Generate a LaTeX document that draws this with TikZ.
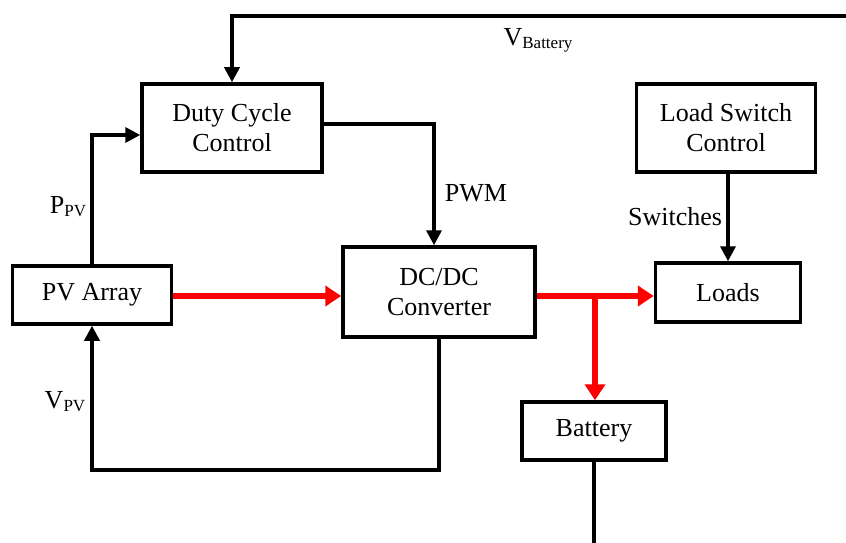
\documentclass[tikz,border=0pt]{standalone}
\usepackage{fontspec}
\setmainfont{Liberation Serif}
\usetikzlibrary{arrows.meta}
\newcommand{\mysub}[1]{\raisebox{-3pt}{\fontsize{17}{17}\selectfont #1}}
\begin{document}
\begin{tikzpicture}[x=1pt,y=-1pt,
  box/.style={draw=black,line width=3.5pt,align=center,inner sep=0pt,
    font=\fontsize{26}{30}\selectfont},
  lbl/.style={inner sep=0pt,font=\fontsize{26}{30}\selectfont},
  conn/.style={draw=black,line width=3.5pt,-{Triangle[width=15pt,length=15pt]}},
  plain/.style={draw=black,line width=3.5pt},
  power/.style={draw=red,line width=6pt,-{Triangle[width=20pt,length=16pt]}},
  powerline/.style={draw=red,line width=6pt}]
\useasboundingbox (0,0) rectangle (846,543);
\node[box,minimum width=180pt,minimum height=88pt] (duty) at (232,128) {Duty Cycle\\Control};
\node[box,minimum width=179pt,minimum height=88pt] (lsc) at (726,128) {Load Switch\\Control};
\node[box,minimum width=159pt,minimum height=58pt] (pv) at (92,295) {PV Array};
\node[box,minimum width=192pt,minimum height=90pt] (dcdc) at (439,292) {DC/DC\\Converter};
\node[box,minimum width=145pt,minimum height=59pt] (loads) at (728,292.5) {Loads};
\node[box,minimum width=144pt,minimum height=58pt] (battery) at (594,431) {Battery};
% labels
\node[lbl] (vbat) at (538,40) {V\mysub{Battery}};
\node[lbl] (pwm) at (476,193) {PWM};
\node[lbl] (ppv) at (68,207) {P\mysub{PV}};
\node[lbl] (vpv) at (65,402) {V\mysub{PV}};
\node[lbl] (sw) at (675,217) {Switches};
% coordinates
\coordinate (tr) at (846,16);
\coordinate (p1) at (434,124);
\coordinate (p2) at (141,135);
\coordinate (p3) at (439,470);
\coordinate (j) at (595,296);
\coordinate (bb) at (594,543);
% black connectors
\draw[conn] (tr) -| (duty.north);
\draw[conn] (duty.east |- p1) -| (p1 |- dcdc.north);
\draw[conn] (pv.north) |- (duty.west |- p2);
\draw[conn] (dcdc.south) -- (dcdc.south |- p3) -| (pv.south);
\draw[conn] (loads.north |- lsc.south) -- (loads.north);
\draw[plain] (battery.south) -- (bb);
% power connectors
\draw[power] (pv.east |- j) -- (dcdc.west |- j);
\draw[powerline] (dcdc.east |- j) -- (j);
\draw[power] (j) -- (j -| loads.west);
\draw[power] (j) -- (j |- battery.north);
\end{tikzpicture}
\end{document}
